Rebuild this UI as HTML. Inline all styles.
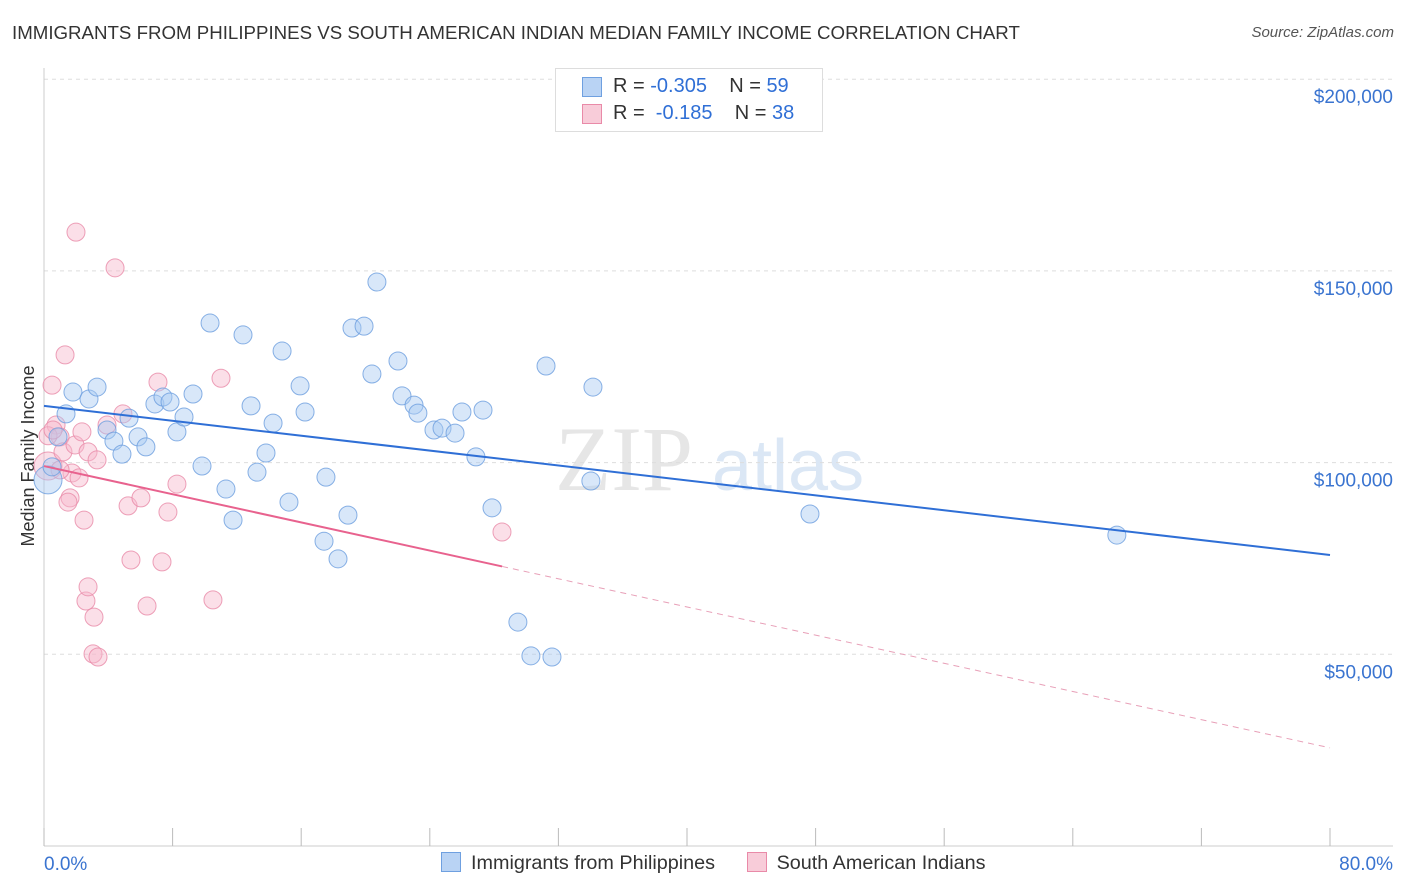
<!DOCTYPE html>
<html><head><meta charset="utf-8"><style>
body{margin:0;background:#fff;font-family:"Liberation Sans",sans-serif;}
#wrap{position:relative;width:1406px;height:892px;overflow:hidden;}
.t{position:absolute;white-space:nowrap;}
</style></head><body>
<div id="wrap">
<div class="t" style="left:12px;top:22px;font-size:18.7px;color:#333;">IMMIGRANTS FROM PHILIPPINES VS SOUTH AMERICAN INDIAN MEDIAN FAMILY INCOME CORRELATION CHART</div>
<div class="t" style="right:12px;top:24px;font-size:15px;color:#555;font-style:italic;">Source: ZipAtlas.com</div>
<svg id="svg" width="1406" height="892" style="position:absolute;left:0;top:0;"></svg>
</div>
<script>
const xTicks=[0,8,16,24,32,40,48,56,64,72,80];
const yTicks=[50000,100000,150000,200000];
const yTickLabels=["$50,000","$100,000","$150,000","$200,000"];
const blueX=[0.25,1.37,0.87,1.8,2.8,3.3,3.92,4.35,4.85,5.29,5.85,6.34,6.9,7.4,7.84,8.27,8.71,9.27,9.83,10.33,11.32,11.76,12.38,12.88,13.25,13.81,14.25,14.81,15.24,15.93,16.24,17.42,17.54,18.29,18.91,19.16,19.91,20.4,20.71,22.02,22.27,23.02,23.26,24.26,24.76,25.57,26,26.87,27.31,27.87,29.48,30.29,31.23,31.6,34.02,34.15,47.65,66.74,0.5];
const blueY=[95500,112700,106700,118400,116600,119700,108500,105600,102200,111600,106700,104100,115300,117100,115800,108000,111900,117900,99100,136400,93100,85000,133300,114800,97500,102500,110300,129100,89700,120000,113200,79500,96200,74900,86300,135100,135600,123100,147100,126500,117400,115000,112900,108500,109000,107700,113200,101500,113700,88200,58400,49600,125200,49300,95200,119700,86600,81100,98900];
const pinkX=[0.25,0.5,0.75,1,1.31,1.18,1.62,1.49,1.74,1.99,1.93,2.18,2.36,2.49,2.74,2.61,2.74,3.11,3.05,3.36,3.3,3.92,4.42,4.91,5.23,5.41,6.03,6.41,7.09,7.34,7.71,8.27,10.51,11.01,28.49,0.25,0.56,1];
const pinkY=[99100,120200,109800,106700,128100,102800,90800,89700,97300,160100,104600,96000,108000,85000,102800,63900,67600,59700,50100,49300,100700,109800,150800,112700,88700,74600,90800,62600,121000,74100,87100,94400,64200,122000,81900,107000,108500,98100];
const blueTrend=[114800,75900];
const pinkTrend=[99100,25600];
const pinkSolidEnd=28.5;

const X=v=>44+v/80*1286;
const Y=v=>846-v/50000*191.7;
const svg=document.getElementById('svg');
const NS='http://www.w3.org/2000/svg';
function mk(tag,attrs,parent){const e=document.createElementNS(NS,tag);for(const k in attrs)e.setAttribute(k,attrs[k]);(parent||svg).appendChild(e);return e;}
let wm=mk('text',{x:555,y:490,'font-size':92,fill:'#e6e6e6','font-family':'Liberation Serif, serif'});


wm.textContent='ZIP';
let wm2=mk('text',{x:712,y:490,'font-size':72,fill:'#dbe7f5','font-family':'Liberation Sans, sans-serif'});


wm2.textContent='atlas';
yTicks.forEach((v,i)=>{
 let l=mk('line',{x1:44,x2:1393,y1:Y(v),y2:Y(v),stroke:'#ddd','stroke-dasharray':'4,4'});
 
 
 let t=mk('text',{x:1393,y:Y(v)+24,'text-anchor':'end','font-size':19,fill:'#3a74d0'});
 
 
 t.textContent=yTickLabels[i];
});
let ax=mk('line',{x1:44,x2:44,y1:68,y2:846,stroke:'#ccc'});


let bx=mk('line',{x1:44,x2:1393,y1:846,y2:846,stroke:'#ccc'});


xTicks.forEach(v=>{
 let l=mk('line',{x1:X(v),x2:X(v),y1:828,y2:846,stroke:'#bbb'});
 
 
});
let xl=mk('text',{x:44,y:870,'font-size':19,fill:'#3a74d0'});


xl.textContent='0.0%';
let xr=mk('text',{x:1393,y:870,'text-anchor':'end','font-size':19,fill:'#3a74d0'});


xr.textContent='80.0%';
let yt=mk('text',{x:34,y:456,'font-size':18,fill:'#333','text-anchor':'middle',transform:'rotate(-90 34 456)'});


yt.textContent='Median Family Income';
function pts(xs,ys,fill,stroke,name){
 xs.forEach((x,i)=>{
  const r=(i===0)?14:9;
  let c=mk('circle',{cx:X(x),cy:Y(ys[i]),r:r,fill:fill,'fill-opacity':0.45,stroke:stroke,'stroke-opacity':0.8,'stroke-width':1});
  
  
 });
}
pts(pinkX,pinkY,'#f6b9cb','#e98aa8','point-south-american-indian');
pts(blueX,blueY,'#a9c9f2','#6b9edf','point-philippines');
let bl=mk('line',{x1:X(0),y1:Y(blueTrend[0]),x2:X(80),y2:Y(blueTrend[1]),stroke:'#2f6fd6','stroke-width':2});


const pAt=x=>pinkTrend[0]+(pinkTrend[1]-pinkTrend[0])*x/80;
let pl=mk('line',{x1:X(0),y1:Y(pinkTrend[0]),x2:X(pinkSolidEnd),y2:Y(pAt(pinkSolidEnd)),stroke:'#e8628e','stroke-width':2});


let pd=mk('line',{x1:X(pinkSolidEnd),y1:Y(pAt(pinkSolidEnd)),x2:X(80),y2:Y(pinkTrend[1]),stroke:'#e8a0b8','stroke-width':1,'stroke-dasharray':'6,5'});


</script>
<div class="t" style="left:555px;top:68px;width:266px;height:62px;border:1px solid #ddd;background:#fff;font-size:20px;">
 <div style="position:absolute;left:26px;top:8px;width:18px;height:18px;background:#b9d3f4;border:1px solid #6fa0e0;"></div>
 <div style="position:absolute;left:57px;top:6px;color:#333;">R = <span style="color:#2f6fd6">-0.305</span>&nbsp;&nbsp;&nbsp; N = <span style="color:#2f6fd6">59</span></div>
 <div style="position:absolute;left:26px;top:35px;width:18px;height:18px;background:#f8ccd9;border:1px solid #e98aa8;"></div>
 <div style="position:absolute;left:57px;top:33px;color:#333;">R = &nbsp;<span style="color:#2f6fd6">-0.185</span>&nbsp;&nbsp;&nbsp; N = <span style="color:#2f6fd6">38</span></div>
</div>
<div class="t" style="left:441px;top:852px;font-size:19.8px;color:#333;">
 <span style="display:inline-block;width:18px;height:18px;background:#b9d3f4;border:1px solid #6fa0e0;vertical-align:-3px;margin-right:10px;"></span><span>Immigrants from Philippines</span>
 <span style="display:inline-block;width:18px;height:18px;background:#f8ccd9;border:1px solid #e98aa8;vertical-align:-3px;margin:0 10px 0 26px;"></span><span>South American Indians</span>
</div>
</body></html>
